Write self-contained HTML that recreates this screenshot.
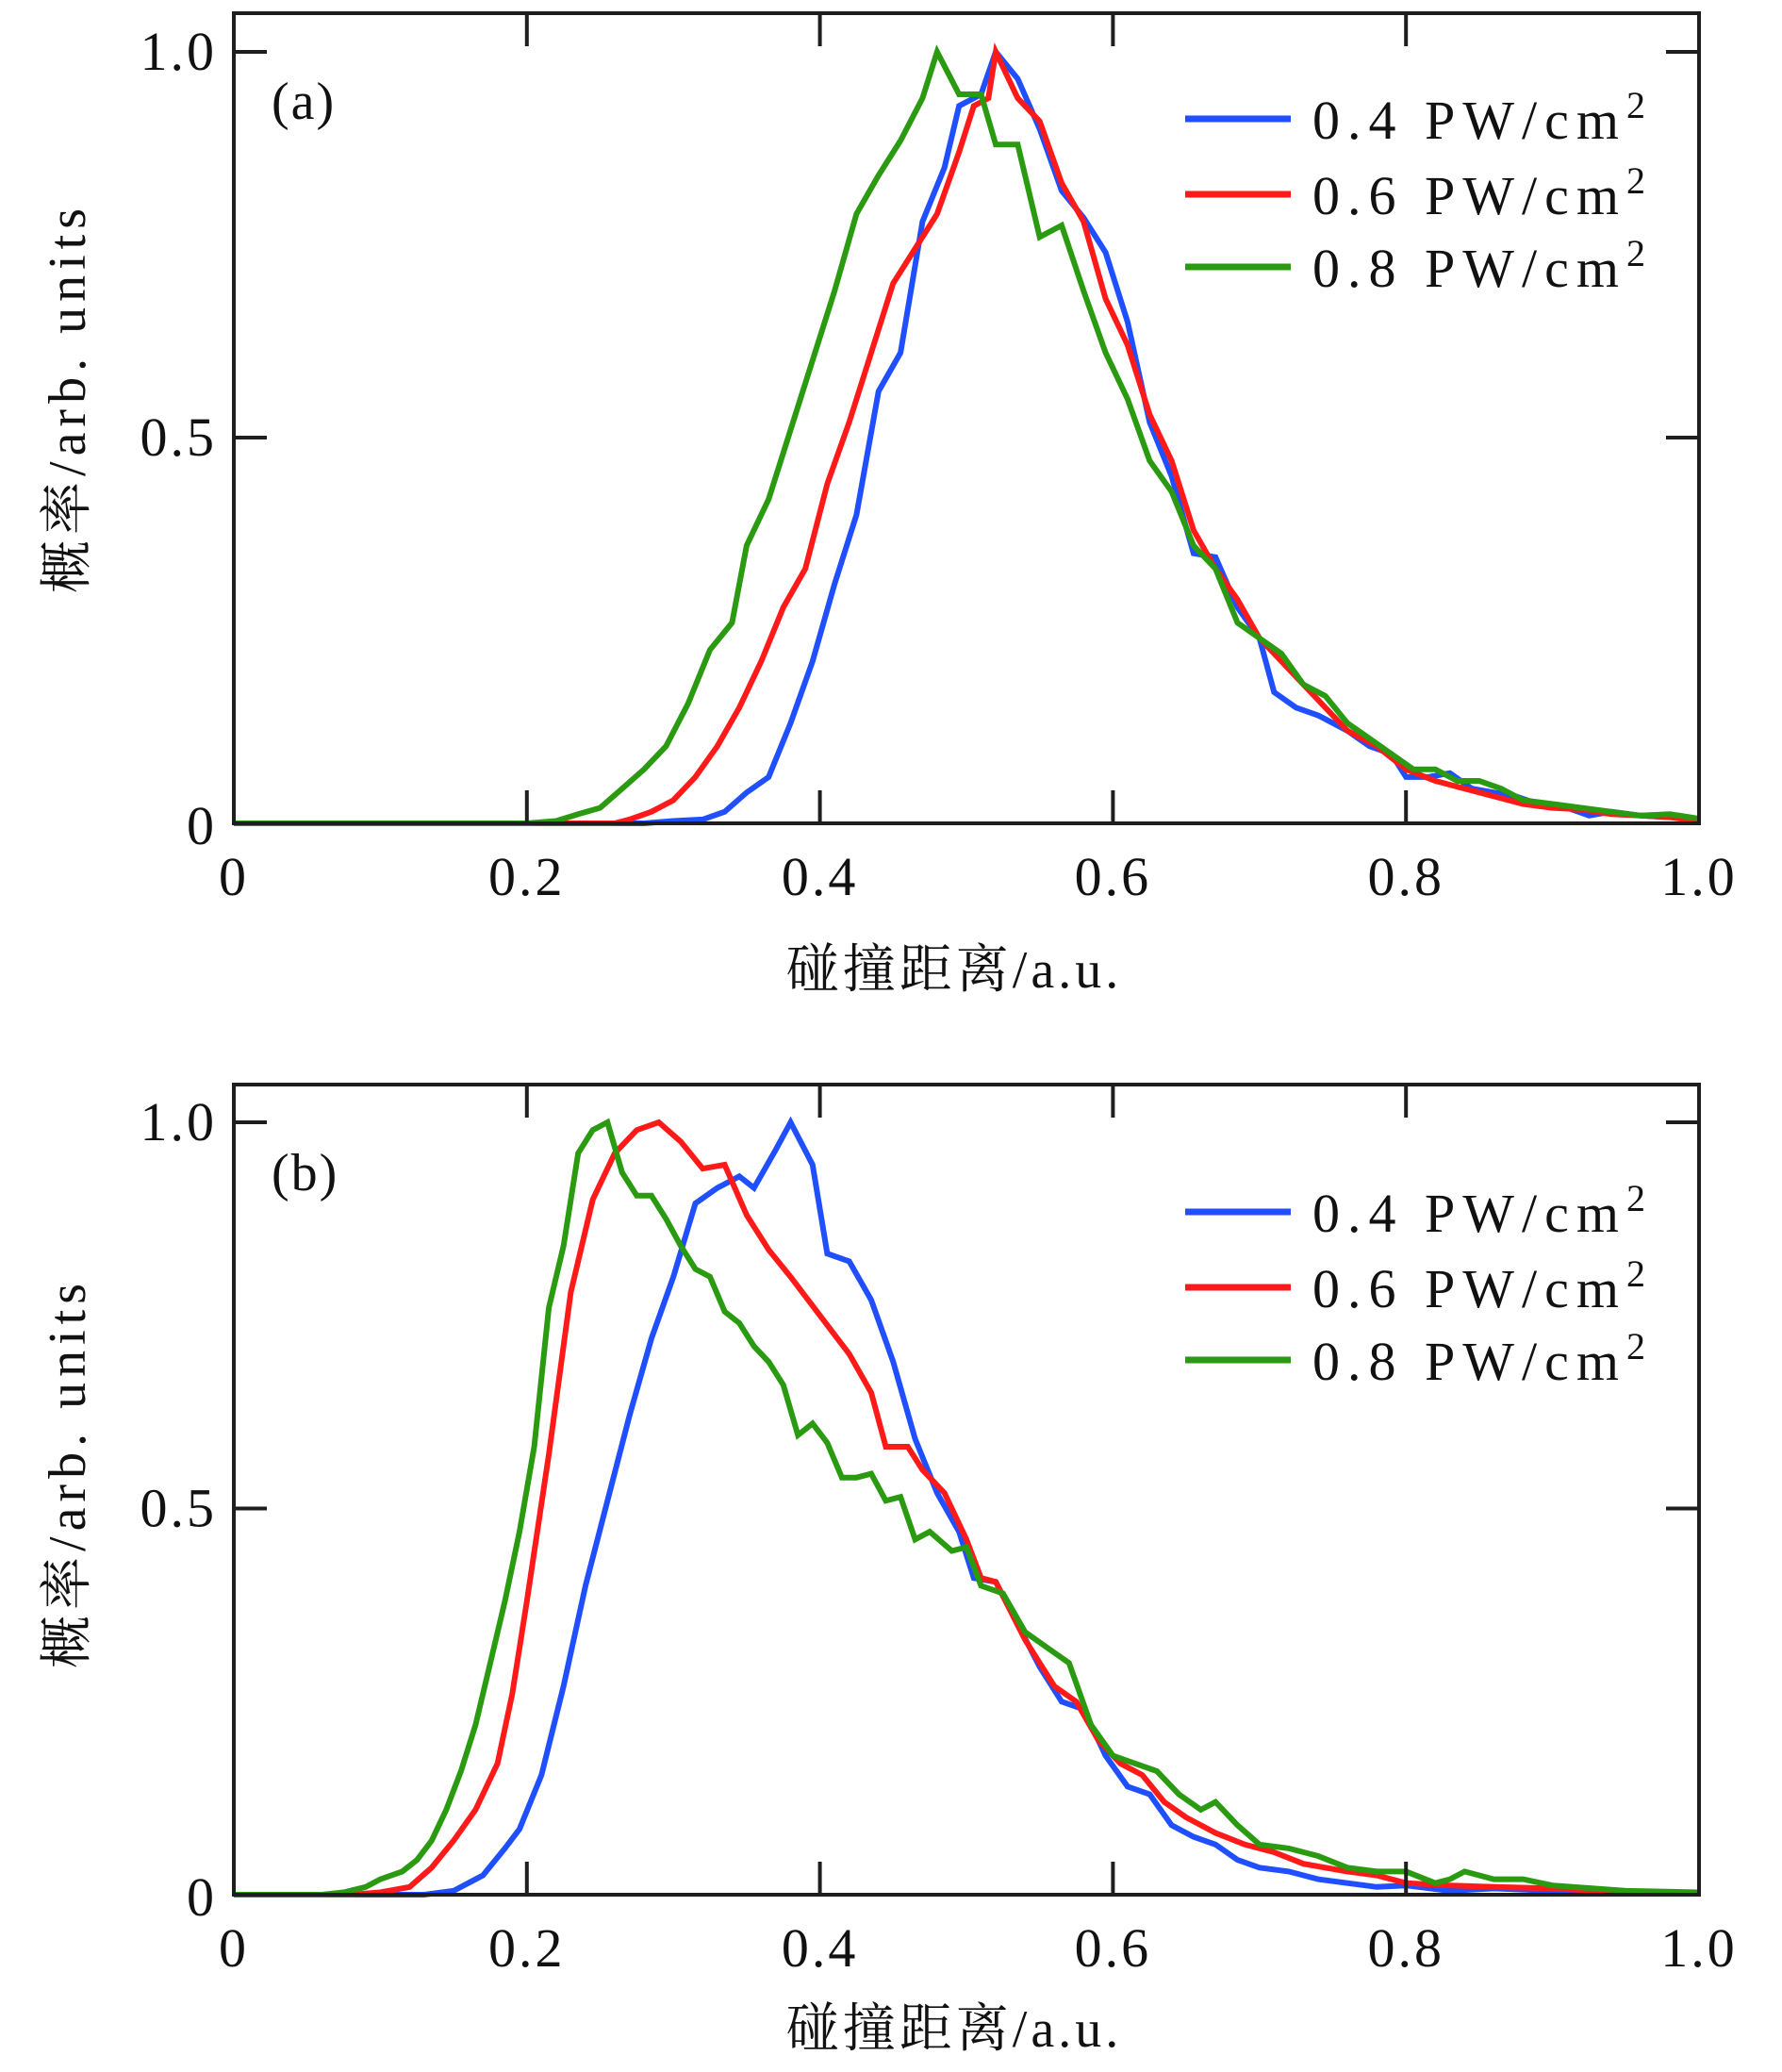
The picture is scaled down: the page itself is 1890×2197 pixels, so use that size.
<!DOCTYPE html>
<html><head><meta charset="utf-8">
<style>
html,body{margin:0;padding:0;background:#fff;}
svg{display:block;}
text{font-family:"Liberation Serif","Noto Serif CJK SC",serif;fill:#111;}
</style></head>
<body>
<svg id="fig" width="1890" height="2197" viewBox="0 0 1890 2197" xmlns="http://www.w3.org/2000/svg"></svg>
<script>
// ---- data: panel (a)
const aBlueX=[0,0.28,0.30,0.32,0.335,0.35,0.365,0.38,0.395,0.41,0.425,0.44,0.455,0.47,0.485,0.495,0.51,0.52,0.535,0.55,0.565,0.58,0.595,0.61,0.625,0.64,0.655,0.67,0.685,0.70,0.71,0.725,0.74,0.76,0.775,0.79,0.80,0.815,0.83,0.845,0.86,0.875,0.89,0.91,0.925,0.94,0.96,0.98,1.0];
const aBlueY=[0,0,0.003,0.005,0.015,0.04,0.06,0.13,0.21,0.31,0.40,0.56,0.61,0.78,0.85,0.93,0.945,1.0,0.965,0.90,0.82,0.785,0.74,0.65,0.52,0.45,0.35,0.345,0.28,0.24,0.17,0.15,0.14,0.12,0.10,0.09,0.06,0.06,0.065,0.045,0.04,0.035,0.025,0.02,0.01,0.015,0.01,0.008,0.005];
const aRedX=[0,0.26,0.27,0.285,0.30,0.315,0.33,0.345,0.36,0.375,0.39,0.405,0.42,0.435,0.45,0.465,0.48,0.495,0.505,0.515,0.52,0.535,0.55,0.565,0.58,0.595,0.61,0.625,0.64,0.655,0.67,0.685,0.70,0.715,0.73,0.745,0.76,0.78,0.80,0.82,0.84,0.86,0.88,0.90,0.92,0.94,0.96,0.98,1.0];
const aRedY=[0,0,0.005,0.015,0.03,0.06,0.10,0.15,0.21,0.28,0.33,0.44,0.52,0.61,0.70,0.745,0.79,0.87,0.93,0.94,1.0,0.94,0.91,0.83,0.78,0.68,0.62,0.53,0.47,0.38,0.33,0.29,0.24,0.21,0.18,0.15,0.12,0.10,0.07,0.055,0.045,0.035,0.025,0.02,0.018,0.012,0.01,0.008,0.003];
const aGreenX=[0,0.20,0.22,0.235,0.25,0.265,0.28,0.295,0.31,0.325,0.34,0.35,0.365,0.38,0.395,0.41,0.425,0.44,0.455,0.47,0.48,0.495,0.51,0.52,0.535,0.55,0.565,0.58,0.595,0.61,0.625,0.64,0.655,0.67,0.685,0.70,0.715,0.73,0.745,0.76,0.775,0.79,0.805,0.82,0.835,0.85,0.865,0.88,0.90,0.92,0.94,0.96,0.98,1.0];
const aGreenY=[0,0,0.003,0.012,0.02,0.045,0.07,0.10,0.155,0.225,0.26,0.36,0.42,0.51,0.60,0.69,0.79,0.84,0.885,0.94,1.0,0.945,0.945,0.88,0.88,0.76,0.775,0.69,0.61,0.55,0.47,0.43,0.36,0.33,0.26,0.24,0.22,0.18,0.165,0.13,0.11,0.09,0.07,0.07,0.055,0.055,0.045,0.03,0.025,0.02,0.015,0.01,0.012,0.006];
// ---- data: panel (b)
const bBlueX=[0,0.13,0.15,0.17,0.185,0.195,0.21,0.225,0.24,0.255,0.27,0.285,0.30,0.315,0.33,0.345,0.355,0.37,0.38,0.395,0.405,0.42,0.435,0.45,0.465,0.48,0.495,0.505,0.52,0.535,0.55,0.565,0.58,0.595,0.61,0.625,0.64,0.655,0.67,0.685,0.70,0.72,0.74,0.76,0.78,0.80,0.83,0.86,0.90,0.95,1.0];
const bBlueY=[0,0,0.005,0.025,0.06,0.085,0.155,0.27,0.40,0.51,0.62,0.72,0.80,0.895,0.915,0.93,0.915,0.965,1.0,0.945,0.83,0.82,0.77,0.69,0.59,0.52,0.47,0.41,0.405,0.35,0.295,0.25,0.24,0.18,0.14,0.13,0.09,0.075,0.065,0.045,0.035,0.03,0.02,0.015,0.01,0.012,0.005,0.008,0.005,0.003,0.002];
const bRedX=[0,0.08,0.10,0.12,0.135,0.15,0.165,0.18,0.19,0.20,0.215,0.23,0.245,0.26,0.275,0.29,0.305,0.32,0.335,0.35,0.365,0.38,0.40,0.42,0.435,0.445,0.46,0.47,0.485,0.50,0.51,0.52,0.54,0.56,0.575,0.59,0.605,0.62,0.635,0.65,0.67,0.69,0.71,0.73,0.76,0.78,0.80,0.83,0.86,0.90,0.95,1.0];
const bRedY=[0,0,0.003,0.01,0.035,0.07,0.11,0.17,0.26,0.38,0.57,0.78,0.90,0.96,0.99,1.0,0.975,0.94,0.945,0.88,0.835,0.80,0.75,0.70,0.65,0.58,0.58,0.55,0.52,0.46,0.41,0.405,0.33,0.27,0.25,0.20,0.17,0.155,0.12,0.10,0.08,0.065,0.055,0.04,0.03,0.025,0.015,0.012,0.01,0.008,0.003,0.002];
const bGreenX=[0,0.06,0.075,0.09,0.10,0.115,0.125,0.135,0.145,0.155,0.165,0.175,0.185,0.195,0.205,0.215,0.225,0.235,0.245,0.255,0.265,0.275,0.285,0.295,0.305,0.315,0.325,0.335,0.345,0.355,0.365,0.375,0.385,0.395,0.405,0.415,0.425,0.435,0.445,0.455,0.465,0.475,0.49,0.50,0.51,0.525,0.54,0.555,0.57,0.585,0.60,0.615,0.63,0.645,0.66,0.67,0.685,0.70,0.72,0.74,0.76,0.78,0.80,0.82,0.83,0.84,0.86,0.88,0.90,0.95,1.0];
const bGreenY=[0,0,0.003,0.01,0.02,0.03,0.045,0.07,0.11,0.16,0.22,0.30,0.38,0.47,0.58,0.76,0.84,0.96,0.99,1.0,0.935,0.905,0.905,0.875,0.84,0.81,0.80,0.755,0.74,0.71,0.69,0.66,0.595,0.61,0.585,0.54,0.54,0.545,0.51,0.515,0.46,0.47,0.445,0.45,0.40,0.39,0.34,0.32,0.30,0.22,0.18,0.17,0.16,0.13,0.11,0.12,0.09,0.065,0.06,0.05,0.035,0.03,0.03,0.015,0.02,0.03,0.02,0.02,0.012,0.005,0.003];
const xTicks=[0,0.2,0.4,0.6,0.8,1.0];
const xTickLabels=["0","0.2","0.4","0.6","0.8","1.0"];
const yTicks=[0,0.5,1.0];
const yTickLabels=["0","0.5","1.0"];
const legendLabels=["0.4 PW/cm","0.6 PW/cm","0.8 PW/cm"];
const colors=["#1f4fff","#ff1a1a","#2a9a10"];

const NS="http://www.w3.org/2000/svg";
const svg=document.getElementById('fig');
function mk(tag,attrs,parent){const e=document.createElementNS(NS,tag);for(const k in attrs)e.setAttribute(k,attrs[k]);(parent||svg).appendChild(e);return e;}

function panel(P){
  const g=mk('g',{});
  
  
  const L=248,R=1802,T=P.top,B=P.y0,Y1=P.y1;
  const sx=v=>L+(R-L)*v;
  const sy=v=>B-(B-Y1)*v;
  P.series.forEach((s,i)=>{
    const d=s.x.map((xv,j)=>(j?'L':'M')+sx(xv).toFixed(1)+','+sy(s.y[j]).toFixed(1)).join(' ');
    const p=mk('path',{d:d,fill:'none',stroke:colors[i],'stroke-width':6,'stroke-linejoin':'miter'},g);
    
    
  });
  const fr=mk('rect',{x:L,y:T,width:R-L,height:B-T,fill:'none',stroke:'#1e1e1e','stroke-width':4},g);
  
  
  xTicks.forEach((t,i)=>{
    const x=sx(t);
    if(t>0&&t<1){
      mk('line',{x1:x,x2:x,y1:B,y2:B-35,stroke:'#1e1e1e','stroke-width':4},g);
      mk('line',{x1:x,x2:x,y1:T,y2:T+35,stroke:'#1e1e1e','stroke-width':4},g);
    }
    const tx=mk('text',{x:x,y:B+76,'font-size':58,'letter-spacing':3,'text-anchor':'middle'},g);
    tx.textContent=xTickLabels[i];
    
    
  });
  yTicks.forEach((t,i)=>{
    const y=sy(t);
    if(t>0){
      mk('line',{x1:L,x2:L+35,y1:y,y2:y,stroke:'#1e1e1e','stroke-width':4},g);
      mk('line',{x1:R,x2:R-35,y1:y,y2:y,stroke:'#1e1e1e','stroke-width':4},g);
    }
    const ty=mk('text',{x:230,y:y+(t===0?22:19),'font-size':58,'letter-spacing':3,'text-anchor':'end'},g);
    ty.textContent=yTickLabels[i];
    
    
  });
  const pl=mk('text',{x:288,y:T+112,'font-size':56,'letter-spacing':2},g);
  pl.textContent=P.label;
  
  
  P.legendY.forEach((ly,i)=>{
    const ln=mk('line',{x1:1257,x2:1369,y1:ly,y2:ly,stroke:colors[i],'stroke-width':7},g);
    
    
    const lt=mk('text',{x:1392,y:ly+21,'font-size':58,'letter-spacing':8},g);
    lt.textContent=legendLabels[i];
    const sup=mk('tspan',{dy:-22,'font-size':40},lt);
    sup.textContent='2';
    
    
  });
  const xt=mk('text',{x:1012,y:P.xTitleY,'font-size':56,'letter-spacing':4,'text-anchor':'middle'},g);
  xt.textContent='碰撞距离/a.u.';
  
  
  const yt=mk('text',{x:0,y:0,'font-size':56,'letter-spacing':6,'text-anchor':'middle',transform:'translate(90,'+P.yTitleC+') rotate(-90)'},g);
  yt.textContent='概率/arb. units';
  
  
}
panel({name:'panel-a',label:'(a)',top:14,y0:873,y1:55,legendY:[126,206,283],xTitleY:1047,yTitleC:422,
  series:[{x:aBlueX,y:aBlueY},{x:aRedX,y:aRedY},{x:aGreenX,y:aGreenY}]});
panel({name:'panel-b',label:'(b)',top:1150,y0:2009,y1:1190,legendY:[1285,1365,1442],xTitleY:2170,yTitleC:1562,
  series:[{x:bBlueX,y:bBlueY},{x:bRedX,y:bRedY},{x:bGreenX,y:bGreenY}]});
</script>
</body></html>
